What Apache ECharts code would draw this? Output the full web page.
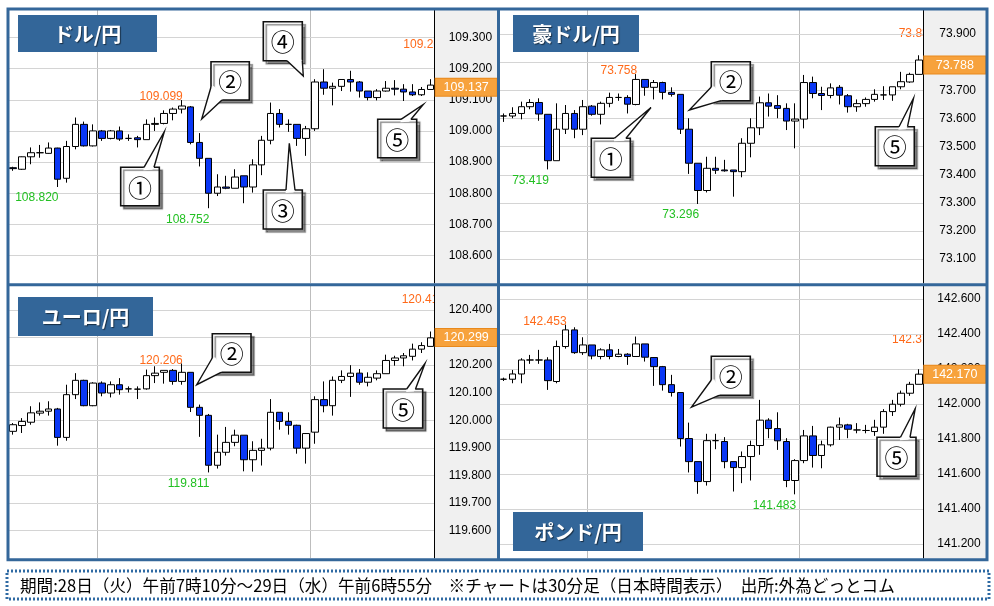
<!DOCTYPE html>
<html><head><meta charset="utf-8">
<script src="https://cdn.jsdelivr.net/npm/echarts@6/dist/echarts.min.js"></script>
<style>html,body{margin:0;padding:0;background:#fff}#c{width:994px;height:606px}</style>
</head><body><div id="c"></div>
<script>
// ---- categories (30-minute bars) ----
const times = ['07:00','07:30','08:00','08:30','09:00','09:30','10:00','10:30','11:00','11:30','12:00','12:30','13:00','13:30','14:00','14:30','15:00','15:30','16:00','16:30','17:00','17:30','18:00','18:30','19:00','19:30','20:00','20:30','21:00','21:30','22:00','22:30','23:00','23:30','00:00','00:30','01:00','01:30','02:00','02:30','03:00','03:30','04:00','04:30','05:00','05:30','06:00','06:30'];
const sessionStarts = ['12:00','00:00'];

// ---- USD/JPY ----
const usdOpen  = [108.882,108.877,108.917,108.930,108.928,108.945,108.848,108.950,109.021,108.952,109.000,108.976,109.000,108.976,108.978,108.972,109.021,109.024,109.056,109.070,109.077,108.963,108.912,108.800,108.820,108.816,108.856,108.820,108.891,108.970,109.056,109.021,109.021,108.976,109.007,109.157,109.137,109.143,109.165,109.157,109.128,109.107,109.128,109.137,109.134,109.125,109.116,109.133];
const usdClose = [108.879,108.917,108.930,108.930,108.945,108.845,108.950,109.021,108.952,109.000,108.976,109.000,108.974,108.976,108.972,109.021,109.024,109.056,109.070,109.080,108.963,108.912,108.800,108.820,108.816,108.852,108.820,108.891,108.970,109.056,109.021,109.021,108.976,109.007,109.157,109.137,109.143,109.165,109.157,109.128,109.107,109.128,109.137,109.134,109.125,109.116,109.133,109.147];
const usdLow   = [108.872,108.875,108.893,108.914,108.927,108.820,108.834,108.941,108.950,108.950,108.968,108.973,108.968,108.968,108.947,108.972,109.000,109.021,109.034,109.056,108.957,108.886,108.752,108.791,108.813,108.816,108.768,108.802,108.858,108.957,109.011,108.997,108.952,108.920,109.000,109.116,109.082,109.128,109.126,109.107,109.098,109.098,109.126,109.114,109.096,109.112,109.112,109.133];
const usdHigh  = [108.885,108.918,108.947,108.955,108.963,108.946,108.968,109.043,109.030,109.021,109.003,109.003,109.014,108.989,108.984,109.037,109.043,109.066,109.075,109.099,109.080,108.993,108.912,108.861,108.856,108.877,108.856,108.909,108.984,109.091,109.070,109.037,109.021,109.016,109.166,109.198,109.155,109.165,109.193,109.160,109.128,109.134,109.160,109.163,109.150,109.150,109.141,109.166];
const usdPrice = 109.137;
const usdHighMarks = [['16:30',109.099]];
const usdLowMarks  = [['18:00',108.752],['09:30',108.820]];
const usdEdgeHigh = '109.265';

// ---- AUD/JPY ----
const audOpen  = [73.609,73.609,73.618,73.642,73.657,73.615,73.450,73.562,73.618,73.562,73.644,73.615,73.654,73.675,73.675,73.650,73.739,73.711,73.728,73.693,73.686,73.562,73.441,73.344,73.423,73.417,73.417,73.411,73.512,73.567,73.656,73.646,73.636,73.591,73.598,73.728,73.689,73.682,73.711,73.681,73.642,73.653,73.668,73.684,73.684,73.713,73.730,73.757];
const audClose = [73.609,73.618,73.642,73.657,73.616,73.450,73.562,73.618,73.562,73.642,73.615,73.654,73.675,73.675,73.651,73.739,73.711,73.728,73.693,73.686,73.562,73.441,73.344,73.423,73.416,73.414,73.411,73.512,73.567,73.656,73.644,73.636,73.591,73.598,73.728,73.689,73.682,73.709,73.683,73.642,73.653,73.668,73.686,73.684,73.713,73.731,73.757,73.808];
const audLow   = [73.588,73.601,73.597,73.633,73.592,73.419,73.450,73.545,73.530,73.541,73.610,73.579,73.640,73.663,73.618,73.647,73.681,73.668,73.668,73.678,73.545,73.403,73.296,73.337,73.403,73.411,73.322,73.391,73.462,73.541,73.607,73.601,73.559,73.494,73.565,73.672,73.630,73.672,73.650,73.621,73.624,73.642,73.660,73.666,73.663,73.704,73.727,73.757];
const audHigh  = [73.618,73.640,73.660,73.669,73.672,73.615,73.654,73.648,73.630,73.666,73.648,73.660,73.692,73.689,73.683,73.758,73.739,73.737,73.731,73.711,73.686,73.601,73.441,73.464,73.464,73.453,73.417,73.530,73.601,73.678,73.689,73.683,73.654,73.654,73.755,73.749,73.713,73.725,73.719,73.687,73.668,73.675,73.704,73.715,73.713,73.766,73.763,73.825];
const audPrice = 73.788;
const audHighMarks = [['14:30',73.758]];
const audLowMarks  = [['18:00',73.296],['09:30',73.419]];
const audEdgeHigh = '73.836';

// ---- EUR/JPY ----
const eurOpen  = [119.960,119.981,119.993,120.026,120.033,120.041,119.938,120.093,120.145,120.053,120.135,120.099,120.129,120.114,120.113,120.114,120.162,120.174,120.181,120.141,120.174,120.047,120.018,119.837,119.884,119.920,119.946,119.857,119.891,119.899,120.029,119.996,119.982,119.899,119.957,120.075,120.053,120.145,120.159,120.171,120.138,120.153,120.169,120.217,120.226,120.232,120.258,120.268];
const eurClose = [119.984,119.996,120.027,120.033,120.041,119.938,120.093,120.145,120.053,120.135,120.099,120.129,120.111,120.114,120.113,120.162,120.171,120.181,120.141,120.174,120.047,120.018,119.837,119.884,119.920,119.946,119.857,119.891,119.899,120.029,119.996,119.982,119.899,119.952,120.075,120.053,120.145,120.159,120.171,120.138,120.156,120.169,120.217,120.226,120.234,120.258,120.271,120.299];
const eurLow   = [119.948,119.954,119.984,120.017,120.017,119.908,119.926,120.077,120.051,120.051,120.087,120.083,120.093,120.101,120.077,120.111,120.135,120.133,120.129,120.129,120.030,119.940,119.811,119.825,119.872,119.906,119.815,119.814,119.836,119.891,119.966,119.948,119.879,119.843,119.915,120.029,120.017,120.135,120.085,120.129,120.123,120.145,120.169,120.198,120.196,120.217,120.244,120.268];
const eurHigh  = [119.990,120.008,120.051,120.065,120.069,120.045,120.129,120.171,120.147,120.138,120.141,120.141,120.153,120.123,120.123,120.184,120.196,120.181,120.186,120.206,120.174,120.057,120.023,119.948,119.976,119.966,119.946,119.924,119.933,120.077,120.029,120.029,119.984,119.954,120.087,120.141,120.159,120.181,120.200,120.186,120.174,120.181,120.238,120.234,120.244,120.278,120.283,120.322];
const eurPrice = 120.299;
const eurHighMarks = [['16:30',120.206]];
const eurLowMarks  = [['18:00',119.811]];
const eurEdgeHigh = '120.416';

// ---- GBP/JPY ----
const gbpOpen  = [142.141,142.141,142.171,142.251,142.251,142.251,142.128,142.328,142.423,142.293,142.337,142.271,142.309,142.271,142.284,142.271,142.343,142.265,142.213,142.110,142.065,141.802,141.670,141.556,141.790,141.785,141.670,141.636,141.699,141.762,141.907,141.859,141.785,141.562,141.676,141.817,141.705,141.766,141.867,141.880,141.851,141.848,141.842,141.867,141.956,141.998,142.061,142.112];
const gbpClose = [142.141,142.171,142.251,142.251,142.251,142.133,142.328,142.423,142.293,142.337,142.274,142.309,142.271,142.284,142.271,142.343,142.267,142.213,142.110,142.065,141.802,141.670,141.556,141.790,141.790,141.670,141.636,141.699,141.762,141.907,141.859,141.789,141.562,141.676,141.817,141.705,141.766,141.867,141.880,141.855,141.851,141.848,141.867,141.956,141.998,142.061,142.112,142.170];
const gbpLow   = [142.131,142.118,142.118,142.229,142.229,142.080,142.118,142.316,142.286,142.280,142.255,142.255,142.255,142.267,142.223,142.271,142.242,142.103,142.076,142.042,141.756,141.608,141.486,141.533,141.741,141.632,141.499,141.547,141.562,141.709,141.804,141.737,141.524,141.483,141.661,141.636,141.632,141.756,141.794,141.804,141.832,141.832,141.817,141.829,141.931,141.985,142.046,142.112];
const gbpHigh  = [142.150,142.194,142.261,142.280,142.309,142.267,142.362,142.453,142.438,142.381,142.337,142.318,142.343,142.314,142.290,142.385,142.343,142.267,142.217,142.166,142.065,141.893,141.670,141.829,141.829,141.810,141.670,141.728,141.790,142.023,141.918,141.952,141.804,141.684,141.851,141.874,141.790,141.870,141.922,141.886,141.890,141.880,141.909,141.970,142.023,142.076,142.126,142.198];
const gbpPrice = 142.170;
const gbpHighMarks = [['10:30',142.453]];
const gbpLowMarks  = [['23:30',141.483]];
const gbpEdgeHigh = '142.318';

// ---- titles / footer ----
const titles = ['ドル/円','豪ドル/円','ユーロ/円','ポンド/円'];
const footerText = '期間:28日（火）午前7時10分～29日（水）午前6時55分　※チャートは30分足（日本時間表示）　出所:外為どっとコム';

// ---- styling / layout ----
const ORANGE = '#ff6a1a', GREEN = '#22c022', FRAME = '#34679a', TITLE_BG = '#336699';
const UP = '#ffffff', DOWN = '#0a37f5';
const AXIS_FONT = "'Liberation Sans',Arial,sans-serif";
const LABEL_FONT = "'Liberation Sans',Arial,sans-serif";
const JP_FONT = "'Noto Sans CJK JP','Noto Sans CJK SC',sans-serif";

const panels = [
  {o:usdOpen,c:usdClose,l:usdLow,h:usdHigh,price:usdPrice,hm:usdHighMarks,lm:usdLowMarks,edge:usdEdgeHigh,
   grid:{left:8.7,top:10,width:426,height:273},min:108.512,max:109.388,step:0.1,margin:14,
   title:{x:18,y:15,w:139,h:37},edgePos:[403.3,44.5],gray:[434.7,9]},
  {o:audOpen,c:audClose,l:audLow,h:audHigh,price:audPrice,hm:audHighMarks,lm:audLowMarks,edge:audEdgeHigh,
   grid:{left:499.3,top:10,width:424,height:273},min:73.015,max:73.986,step:0.1,margin:16,
   title:{x:513,y:15,w:126,h:37},edgePos:[898.7,34],gray:[923.3,9]},
  {o:eurOpen,c:eurClose,l:eurLow,h:eurHigh,price:eurPrice,hm:eurHighMarks,lm:eurLowMarks,edge:eurEdgeHigh,
   grid:{left:8.7,top:286,width:426,height:272},min:119.5007,max:120.487,step:0.1,margin:14,
   title:{x:18,y:297,w:135,h:39},edgePos:[401.7,300],gray:[434.7,284]},
  {o:gbpOpen,c:gbpClose,l:gbpLow,h:gbpHigh,price:gbpPrice,hm:gbpHighMarks,lm:gbpLowMarks,edge:gbpEdgeHigh,
   grid:{left:499.3,top:286,width:424,height:272},min:141.119,max:142.674,step:0.2,margin:14,
   title:{x:513,y:512,w:130,h:39},edgePos:[892,339.7],gray:[923.3,284]}
];

// callout annotations: box [x1,y1,x2,y2], tail base a, tip, tail base b
const callouts = [
  {t:'①',box:[120.7,167.3,159.3,205.7],a:[144,167.3],tip:[164.3,131.7],b:[154,167.3]},
  {t:'②',box:[211,61.7,249.3,100],a:[211,87],tip:[201.7,119],b:[222,100]},
  {t:'③',box:[263.3,190,302.3,229],a:[286,190],tip:[289.3,143.3],b:[295,190]},
  {t:'④',box:[263.3,21.7,302.3,60.7],a:[287,60.7],tip:[303.3,76],b:[302.3,60.7]},
  {t:'⑤',box:[377.7,119.3,416.7,157.7],a:[401,119.3],tip:[423.3,104.5],b:[411,119.3]},
  {t:'①',box:[591.3,138.3,630.3,177.3],a:[614.5,138.3],tip:[651,107.5],b:[626,138.3]},
  {t:'②',box:[711.3,61.7,750.3,100.7],a:[711.3,87],tip:[689.3,110],b:[721,100.7]},
  {t:'⑤',box:[875.3,126.7,914.3,165.7],a:[899,126.7],tip:[913.5,98.3],b:[907.5,126.7]},
  {t:'②',box:[212.3,333.7,251,372.3],a:[212.3,358],tip:[196.7,384.7],b:[221,372.3]},
  {t:'⑤',box:[383.3,389,422.7,428],a:[406.7,389],tip:[425,363.5],b:[415.5,389]},
  {t:'②',box:[711.3,356.3,750.3,395.3],a:[711.3,380],tip:[691.5,407.2],b:[719,395.3]},
  {t:'⑤',box:[877,437.3,916,476.3],a:[900.5,437.3],tip:[915.2,408.7],b:[910,437.3]}
];

function calloutEls(co) {
  const [x1,y1,x2,y2] = co.box;
  const cx = (x1+x2)/2, cy = (y1+y2)/2;
  const inward = p => { const dx=cx-p[0], dy=cy-p[1], d=Math.hypot(dx,dy); return [p[0]+dx/d*3, p[1]+dy/d*3]; };
  return [
    {type:'rect', shape:{x:x1,y:y1,width:x2-x1,height:y2-y1}, z:20,
     style:{fill:'#fff', stroke:'#111', lineWidth:1.6, shadowColor:'rgba(0,0,0,0.45)', shadowOffsetX:3, shadowOffsetY:3, shadowBlur:1}},
    {type:'polygon', shape:{points:[inward(co.a), co.a, co.tip, co.b, inward(co.b)]}, z:21, style:{fill:'#fff'}},
    {type:'polyline', shape:{points:[co.a, co.tip, co.b]}, z:22, style:{stroke:'#111', lineWidth:1.4, fill:null}},
    {type:'text', x:cx, y:cy+1, z:23, style:{text:co.t, font:'24px '+JP_FONT, fill:'#000', align:'center', verticalAlign:'middle', textAlign:'center', textVerticalAlign:'middle'}}
  ];
}

const graphics = [];
panels.forEach((p,i) => {
  graphics.push({type:'rect', shape:{x:p.gray[0], y:p.gray[1], width:64, height:277}, z:1, style:{fill:'#f0f0f0'}});
  graphics.push({type:'text', x:p.edgePos[0], y:p.edgePos[1], z:0,
    style:{text:p.edge, font:'12px '+LABEL_FONT, fill:ORANGE, align:'left', verticalAlign:'middle', textAlign:'left', textVerticalAlign:'middle'}});
  const t = p.title;
  graphics.push({type:'rect', shape:{x:t.x,y:t.y,width:t.w,height:t.h}, z:11, style:{fill:TITLE_BG}});
  graphics.push({type:'text', x:t.x+t.w/2, y:t.y+t.h/2+1, z:12,
    style:{text:titles[i], font:'bold 20px '+JP_FONT, fill:'#fff', align:'center', verticalAlign:'middle', textAlign:'center', textVerticalAlign:'middle',
           textShadowColor:'rgba(0,0,0,0.55)', textShadowOffsetX:1, textShadowOffsetY:1, textShadowBlur:1}});
});
// frame
graphics.push({type:'rect', shape:{x:8,y:9,width:979,height:550.7}, z:10, style:{fill:null, stroke:FRAME, lineWidth:3}});
graphics.push({type:'line', shape:{x1:498.5,y1:9,x2:498.5,y2:559.7}, z:10, style:{stroke:FRAME, lineWidth:3}});
graphics.push({type:'line', shape:{x1:8,y1:284.8,x2:987,y2:284.8}, z:10, style:{stroke:FRAME, lineWidth:3}});
// footer
graphics.push({type:'rect', shape:{x:7,y:571,width:982,height:28}, z:10, style:{fill:null, stroke:'#2f6aa3', lineWidth:3, lineDash:[2,2]}});
graphics.push({type:'text', x:20, y:585.5, z:10, style:{text:footerText, font:'16.6px '+JP_FONT, fill:'#000', align:'left', verticalAlign:'middle', textAlign:'left', textVerticalAlign:'middle'}});
callouts.forEach(co => graphics.push(...calloutEls(co)));

function markLabels(p) {
  const data = [];
  p.hm.forEach(m => data.push({coord:m, value:m[1], label:{show:true, position:'inside', align:'right', verticalAlign:'bottom', offset:[1,3], color:ORANGE, fontSize:12, fontFamily:LABEL_FONT, formatter:m[1].toFixed(3)}}));
  p.lm.forEach(m => data.push({coord:m, value:m[1], label:{show:true, position:'inside', align:'right', verticalAlign:'top', offset:[1,5], color:GREEN, fontSize:12, fontFamily:LABEL_FONT, formatter:m[1].toFixed(3)}}));
  return data;
}

const option = {
  animation:false,
  backgroundColor:'#ffffff',
  grid: panels.map(p => Object.assign({containLabel:false, show:false}, p.grid)),
  xAxis: panels.map((p,i) => ({
    type:'category', gridIndex:i, data:times, boundaryGap:true,
    axisLine:{show:false}, axisTick:{show:false}, axisLabel:{show:false},
    splitLine:{show:true, interval:(idx,val) => sessionStarts.indexOf(val) >= 0, lineStyle:{color:'#bdbdbd', width:1}}
  })),
  yAxis: panels.map((p,i) => ({
    type:'value', gridIndex:i, position:'right', min:p.min, max:p.max, minInterval:p.step, maxInterval:p.step, splitNumber:10, z:5,
    axisLine:{show:true, lineStyle:{color:'#000', width:1}}, axisTick:{show:false},
    axisLabel:{margin:p.margin, color:'#000', fontSize:12, fontFamily:AXIS_FONT, formatter:v => v.toFixed(3), showMinLabel:false, showMaxLabel:false},
    splitLine:{show:true, showMinLine:false, showMaxLine:false, lineStyle:{color:'#d4d4d4', width:1}}
  })),
  series: panels.map((p,i) => ({
    type:'candlestick', xAxisIndex:i, yAxisIndex:i, z:6, barWidth:7,
    itemStyle:{color:UP, color0:DOWN, borderColor:'#000', borderColor0:'#000', borderWidth:1},
    data: times.map((t,k) => [p.o[k], p.c[k], p.l[k], p.h[k]]),
    markPoint:{symbol:'circle', symbolSize:1, itemStyle:{color:'rgba(0,0,0,0)'}, silent:true, animation:false, data:markLabels(p)},
    markLine:{symbol:['none','none'], silent:true, animation:false, z:8,
      lineStyle:{color:'rgba(0,0,0,0)', width:1, type:'solid'},
      label:{show:true, position:'end', distance:1, formatter:'{p|'+p.price.toFixed(3)+'}',
        rich:{p:{width:61, height:17, lineHeight:17, align:'center', backgroundColor:'#f7a23c', borderColor:'#e8891c', borderWidth:1, color:'#fff', fontSize:12.5, fontFamily:AXIS_FONT}}},
      data:[{yAxis:p.price}]}
  })),
  graphic: {elements: graphics}
};

const chart = echarts.init(document.getElementById('c'));
chart.setOption(option);
</script>
</body></html>
